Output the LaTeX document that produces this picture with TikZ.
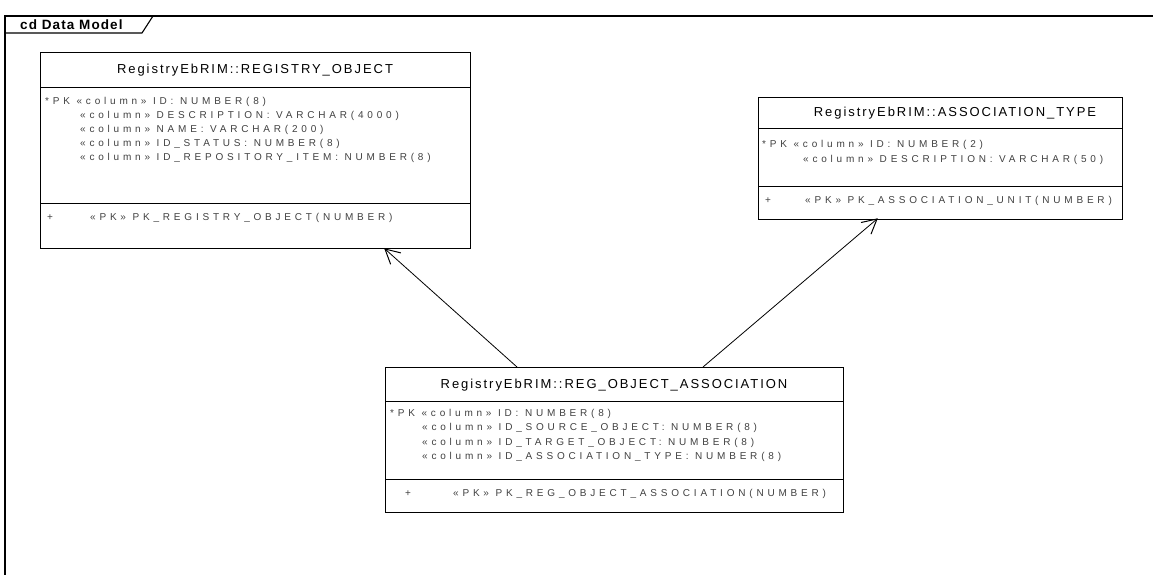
\documentclass[tikz,border=0pt]{standalone}
\usepackage{fontspec}
\setmainfont{Liberation Sans}
\newfontfamily\hdrfont[LetterSpace=15]{Liberation Sans}
\newfontfamily\attfont[LetterSpace=38]{Liberation Sans}
\newfontfamily\ttlfont[LetterSpace=8]{Liberation Sans}
\usetikzlibrary{calc}
\tikzset{
  box/.style={draw=black, line width=1pt, anchor=north west, inner sep=0pt},
  sepline/.style={draw=black, line width=1pt},
  hdr/.style={font=\hdrfont\fontsize{13}{15}\selectfont, text=black, inner sep=0pt},
  att/.style={font=\attfont\fontsize{10}{12}\selectfont, text=black!75, anchor=west, inner sep=0pt},
  frameline/.style={draw=black, line width=1.1pt},
  assoc/.style={draw=black, line width=0.8pt},
  barb/.style={draw=black, line width=1pt, line cap=round}
}
\begin{document}
\begin{tikzpicture}[x=1pt,y=-1pt]
\useasboundingbox (0,0) rectangle (1153,575);
% frame
\coordinate (fbl) at (5,575);
\coordinate (ftl) at (5,16);
\coordinate (ftr) at (1153,16);
\coordinate (tab1) at (5,33);
\coordinate (tab2) at (142,33);
\coordinate (tab3) at (153,16);
\draw[frameline] (fbl) -- (ftl) -- (ftr);
\draw[frameline] (tab1) -- (tab2) -- (tab3);
\node[font=\ttlfont\bfseries\fontsize{13.5}{15}\selectfont, anchor=west, inner sep=0pt] (title) at (20,25) {cd Data Model};

% REGISTRY_OBJECT
\node[box, minimum width=430pt, minimum height=196pt] (ro) at (40,52) {};
\node[hdr] (roh) at (255,70) {RegistryEbRIM::REGISTRY\_OBJECT};
\draw[sepline] (ro.west |- 0,88) -- (ro.east |- 0,88);
\node[att] (ro1) at (45,102) {*PK «column» ID: NUMBER(8)};
\node[att] (ro2) at (80,116) {«column» DESCRIPTION: VARCHAR(4000)};
\node[att] (ro3) at (80,130) {«column» NAME: VARCHAR(200)};
\node[att] (ro4) at (80,144) {«column» ID\_STATUS: NUMBER(8)};
\node[att] (ro5) at (80,158) {«column» ID\_REPOSITORY\_ITEM: NUMBER(8)};
\draw[sepline] (ro.west |- 0,203) -- (ro.east |- 0,203);
\node[att] (rop0) at (47,218) {+};
\node[att] (rop) at (90,218) {«PK» PK\_REGISTRY\_OBJECT(NUMBER)};

% ASSOCIATION_TYPE
\node[box, minimum width=364pt, minimum height=122pt] (at) at (758,97) {};
\node[hdr] (ath) at (955,113) {RegistryEbRIM::ASSOCIATION\_TYPE};
\draw[sepline] (at.west |- 0,129) -- (at.east |- 0,129);
\node[att] (at1) at (762,145) {*PK «column» ID: NUMBER(2)};
\node[att] (at2) at (803,160) {«column» DESCRIPTION: VARCHAR(50)};
\draw[sepline] (at.west |- 0,186) -- (at.east |- 0,186);
\node[att] (atp0) at (765,201) {+};
\node[att] (atp) at (805,201) {«PK» PK\_ASSOCIATION\_UNIT(NUMBER)};

% REG_OBJECT_ASSOCIATION
\node[box, minimum width=458pt, minimum height=145pt] (roa) at (385,367) {};
\node[hdr] (roah) at (614,385) {RegistryEbRIM::REG\_OBJECT\_ASSOCIATION};
\draw[sepline] (roa.west |- 0,401) -- (roa.east |- 0,401);
\node[att] (roa1) at (390,414) {*PK «column» ID: NUMBER(8)};
\node[att] (roa2) at (422,428) {«column» ID\_SOURCE\_OBJECT: NUMBER(8)};
\node[att] (roa3) at (422,443) {«column» ID\_TARGET\_OBJECT: NUMBER(8)};
\node[att] (roa4) at (422,457) {«column» ID\_ASSOCIATION\_TYPE: NUMBER(8)};
\draw[sepline] (roa.west |- 0,479) -- (roa.east |- 0,479);
\node[att] (roap0) at (405,494) {+};
\node[att] (roap) at (453,494) {«PK» PK\_REG\_OBJECT\_ASSOCIATION(NUMBER)};

% connectors
\coordinate (c1s) at (517,367);
\coordinate (c1e) at (385,249);
\coordinate (c2s) at (703,367);
\coordinate (c2e) at (877,219);
\draw[assoc] (c1s) -- (c1e);
\draw[assoc] (c2s) -- (c2e);
% open arrowheads
\draw[barb] ($(c1e)!16pt!28:(c1s)$) -- (c1e) -- ($(c1e)!16pt!-28:(c1s)$);
\draw[barb] ($(c2e)!16pt!28:(c2s)$) -- (c2e) -- ($(c2e)!16pt!-28:(c2s)$);
\end{tikzpicture}
\end{document}
